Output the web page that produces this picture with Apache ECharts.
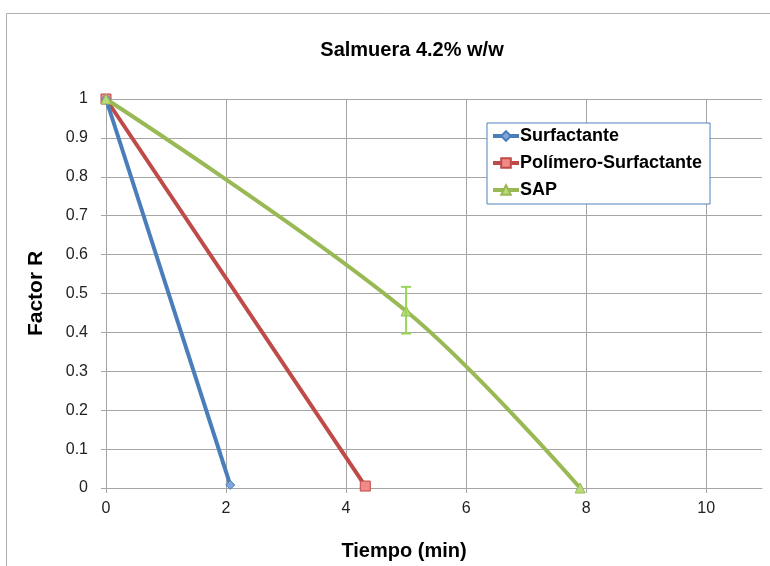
<!DOCTYPE html>
<html><head><meta charset="utf-8">
<script src="https://cdn.jsdelivr.net/npm/echarts@6/dist/echarts.min.js"></script>
<style>html,body{margin:0;padding:0;background:#fff}#c{width:770px;height:566px}</style>
</head><body><div id="c"></div>
<script>
const seriesNames = ['Surfactante', 'Polímero-Surfactante', 'SAP'];
const surfactante = [[0, 1], [2.07, 0.008]];
const polimeroSurfactante = [[0, 1], [4.32, 0.005]];
const sap = [[0, 1], [5, 0.455], [7.9, 0]];
const sapErrors = [[5, 0.397, 0.517]]; // x, low, high
const xTicks = [0, 2, 4, 6, 8, 10];
const yTicks = [0, 0.1, 0.2, 0.3, 0.4, 0.5, 0.6, 0.7, 0.8, 0.9, 1];

const chart = echarts.init(document.getElementById('c'), null, {renderer: 'canvas'});
const font = '"Liberation Sans", Arial, sans-serif';
const gridColor = '#a6a6a6';
chart.setOption({
  animation: false,
  backgroundColor: '#fff',
  graphic: [{type: 'rect', shape: {x: 6.5, y: 13.5, width: 800, height: 600}, style: {fill: 'none', stroke: '#b0b0b0', lineWidth: 1}, z: -10}],
  title: {text: 'Salmuera 4.2% w/w', left: 407, top: 35, textAlign: 'center',
    textStyle: {fontFamily: font, fontSize: 20, fontWeight: 'bold', color: '#000'}},
  legend: {
    orient: 'vertical', left: 487, top: 123,
    data: seriesNames,
    backgroundColor: '#fff', borderColor: '#4f81bd', borderWidth: 1,
    padding: [3, 8, 4, 4], itemGap: 7, itemWidth: 26, itemHeight: 12,
    lineStyle: {width: 4},
    textStyle: {fontFamily: font, fontSize: 18, lineHeight: 20, fontWeight: 'bold', color: '#000', padding: [0, 0, 0, -4]}
  },
  grid: {left: 106, top: 99, right: 8, bottom: 76, containLabel: false},
  xAxis: {
    type: 'value', min: 0, max: 10.93, interval: 2,
    name: 'Tiempo (min)', nameLocation: 'middle', nameGap: 53,
    nameTextStyle: {fontFamily: font, fontSize: 20, fontWeight: 'bold', color: '#000', padding: [0, 60, 0, 0]},
    axisLine: {lineStyle: {color: gridColor}},
    axisTick: {show: true, length: 5, lineStyle: {color: gridColor}},
    axisLabel: {fontFamily: font, fontSize: 16, color: '#222', margin: 13, showMaxLabel: false,
      formatter: v => xTicks.includes(v) ? String(v) : ''},
    splitLine: {show: true, showMaxLine: false, lineStyle: {color: gridColor, width: 1}}
  },
  yAxis: {
    type: 'value', min: 0, max: 1, interval: 0.1,
    name: 'Factor R', nameLocation: 'middle', nameGap: 59, nameRotate: 90,
    nameTextStyle: {fontFamily: font, fontSize: 21, fontWeight: 'bold', color: '#000'},
    axisLine: {show: true, lineStyle: {color: gridColor}},
    axisTick: {show: true, length: 5, lineStyle: {color: gridColor}},
    axisLabel: {fontFamily: font, fontSize: 16, color: '#222', margin: 18,
      formatter: v => { const t = yTicks.find(y => Math.abs(y - v) < 1e-9); return t === undefined ? '' : String(t); }},
    splitLine: {show: true, lineStyle: {color: gridColor, width: 1}}
  },
  series: [
    {name: seriesNames[0], type: 'line', data: surfactante, symbol: 'diamond', symbolSize: 9,
      lineStyle: {color: '#4a7ebb', width: 4}, itemStyle: {color: '#7fa6de', borderColor: '#4a7ebb', borderWidth: 1}, z: 3},
    {name: seriesNames[1], type: 'line', data: polimeroSurfactante, symbol: 'rect', symbolSize: 10,
      lineStyle: {color: '#be4b48', width: 4}, itemStyle: {color: '#f08a87', borderColor: '#be4b48', borderWidth: 1}, z: 2},
    {name: seriesNames[2], type: 'line', data: sap, smooth: 0.35, symbol: 'triangle', symbolSize: 10,
      lineStyle: {color: '#98b954', width: 4}, itemStyle: {color: '#b9dc78', borderColor: '#98b954', borderWidth: 1}, z: 4},
    {name: 'SAP-error', type: 'custom', data: sapErrors, z: 5,
      renderItem: (params, api) => {
        const x = api.value(0);
        const lo = api.coord([x, api.value(1)]);
        const hi = api.coord([x, api.value(2)]);
        const w = 5;
        const style = {stroke: '#98d65a', lineWidth: 2};
        return {type: 'group', children: [
          {type: 'line', shape: {x1: lo[0], y1: lo[1], x2: hi[0], y2: hi[1]}, style},
          {type: 'line', shape: {x1: lo[0] - w, y1: lo[1], x2: lo[0] + w, y2: lo[1]}, style},
          {type: 'line', shape: {x1: hi[0] - w, y1: hi[1], x2: hi[0] + w, y2: hi[1]}, style}
        ]};
      }}
  ]
});
</script></body></html>
